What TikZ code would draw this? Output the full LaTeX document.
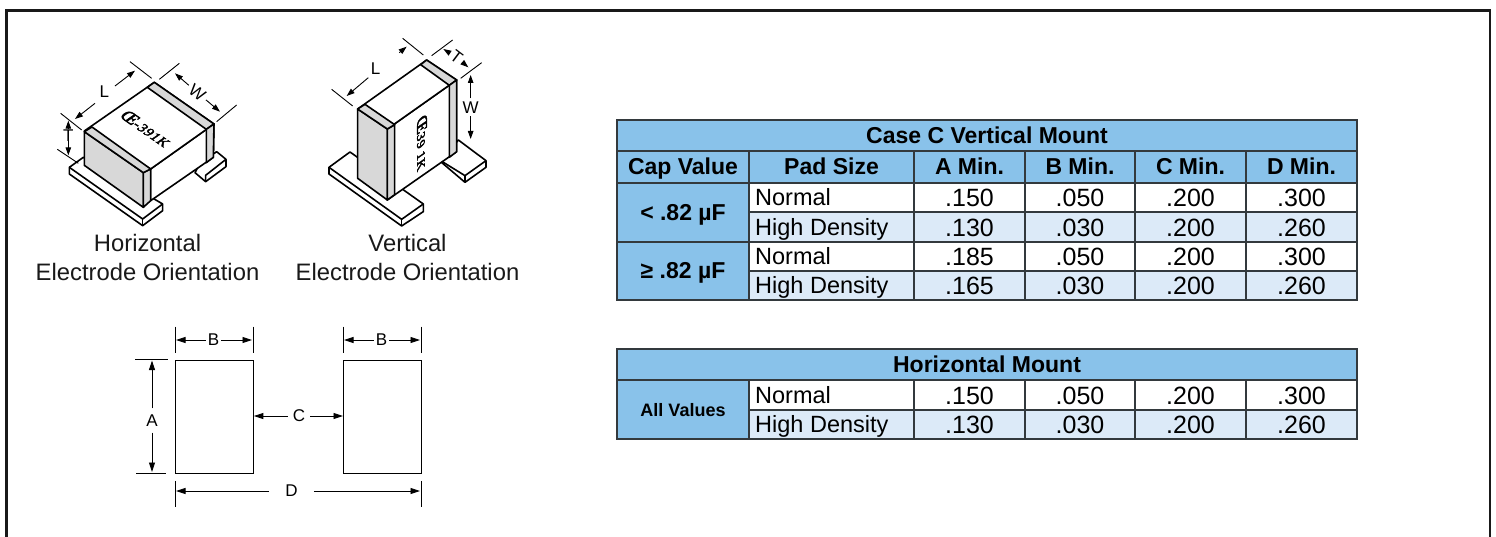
\documentclass[tikz,border=0pt]{standalone}
\usepackage{fontspec}
\setmainfont{Liberation Sans}
\newfontfamily\markfont[LetterSpace=5,FakeBold=3]{Liberation Serif}
\usetikzlibrary{arrows.meta}
\definecolor{hdr}{HTML}{89C2EA}
\definecolor{lite}{HTML}{DCEAF8}
\definecolor{grid}{HTML}{33393D}
\definecolor{elec}{HTML}{D8D8D8}
\tikzset{
  iso/.style={line width=1.6pt,line join=round,draw=black,fill=white},
  band/.style={line width=1.6pt,line join=round,draw=black,fill=elec},
  ext/.style={line width=0.9pt,draw=black},
  dimarrow/.style={line width=0.9pt,draw=black,-{Triangle[length=9.5pt,width=6pt]}},
  isoarrow/.style={line width=0.9pt,draw=black,-{Triangle[length=8pt,width=5.5pt]}},
  padrect/.style={line width=0.9pt,draw=black,fill=white},
  dimtext/.style={font=\fontsize{17}{17}\selectfont,inner sep=2pt,text=black},
  captext/.style={font=\fontsize{23.8}{29}\selectfont,align=center,inner sep=0pt,text=black!90},
  cellline/.style={line width=1.5pt,draw=grid},
  reg/.style={font=\fontsize{23.5}{28}\selectfont,inner sep=0pt},
  num/.style={font=\fontsize{25}{28}\selectfont,inner sep=0pt,yshift=-0.5pt},
  hd/.style={font=\bfseries\fontsize{23}{28}\selectfont,inner sep=0pt,yshift=0.7pt},
  hds/.style={font=\bfseries\fontsize{18}{22}\selectfont,inner sep=0pt,yshift=1.2pt},
}
% name, x1,y1,x2,y2, fill, text style, text
\newcommand{\cellc}[8]{%
  \filldraw[cellline,fill=#6] (#2,#3) rectangle (#4,#5);
  \node[#7,anchor=base] (#1) at ({(#2+#4)/2},{(#3+#5)/2+8.5}) {#8};}
\newcommand{\celll}[8]{%
  \filldraw[cellline,fill=#6] (#2,#3) rectangle (#4,#5);
  \node[#7,anchor=base west] (#1) at ({#2+6},{(#3+#5)/2+8.3}) {#8};}
% table body row: prefix, y1, y2, fill, pad name, a, b, c, d
\newcommand{\bodyrow}[9]{%
  \celll{#1p}{749}{#2}{914}{#3}{#4}{reg}{#5}
  \cellc{#1a}{914}{#2}{1025}{#3}{#4}{num}{#6}
  \cellc{#1b}{1025}{#2}{1135}{#3}{#4}{num}{#7}
  \cellc{#1c}{1135}{#2}{1246}{#3}{#4}{num}{#8}
  \cellc{#1d}{1246}{#2}{1357}{#3}{#4}{num}{#9}}
\begin{document}
\begin{tikzpicture}[x=1pt,y=-1pt]
\useasboundingbox (0,0) rectangle (1496,536);
\fill[white] (0,0) rectangle (1496,536);
% outer frame (runs off the bottom)
\draw[line width=2.6pt,black!90] (6.3,537) -- (6.3,10.7) -- (1490,10.7) -- (1490,537);

% ---------- horizontal capacitor ----------
\begin{scope}[shift={(40,50)},x=0.3333pt,y=-0.3333pt]
  % pads
  \filldraw[iso] (465,368) -- (497,395) -- (558,350) -- (558,328) -- (530,305) -- (480,340) -- cycle;
  \draw[iso,fill=none] (497,395) -- (497,376) -- (558,328);
  \filldraw[iso] (88,352) -- (130,322) -- (368,462) -- (368,482) -- (308,527) -- (88,372) -- cycle;
  \draw[iso,fill=none] (88,352) -- (308,507) -- (368,462);
  \draw[iso,fill=none] (308,507) -- (308,527);
  % body
  \filldraw[iso] (332,357) -- (522,222) -- (520,322) -- (332,452) -- cycle;
  \filldraw[iso] (133,243) -- (343,97) -- (522,222) -- (332,357) -- cycle;
  \filldraw[band] (133,245) -- (310,368) -- (310,472) -- (133,346) -- cycle;
  \filldraw[band] (310,368) -- (332,357) -- (332,452) -- (310,472) -- cycle;
  \filldraw[band] (133,245) -- (156,231) -- (332,357) -- (310,368) -- cycle;
  \filldraw[band] (343,97) -- (522,222) -- (499,238) -- (322,112) -- cycle;
  \filldraw[band] (499,238) -- (522,222) -- (520,322) -- (499,338) -- cycle;
  % marking
  \node[cm={0.82,-0.57,0.82,0.57,(0,0)},inner sep=0pt,text=black] (hmark) at (318,236) {\markfont\fontsize{14}{14}\selectfont{\fontsize{18}{18}\selectfont Œ}-391K};
  % dimensions
  \coordinate (hL1) at (285,62); \coordinate (hL2) at (105,207);
  \coordinate (hL1s) at (225,108); \coordinate (hL2s) at (165,160);
  \coordinate (hW1) at (405,70); \coordinate (hW2) at (540,185);
  \coordinate (hT1) at (85,212); \coordinate (hT2) at (85,316);
  \node[dimtext] (hLt) at (193,125) {L};
  \node[dimtext,rotate=-37,inner sep=3pt] (hWt) at (472,128) {W};
  \node[dimtext,inner sep=0pt] (hTt) at (85,256) {T};
  \draw[ext] (270,35) -- (335,85);
  \draw[ext] (418,40) -- (358,88);
  \draw[ext] (590,165) -- (530,215);
  \draw[ext] (62,190) -- (125,240);
  \draw[ext] (52,298) -- (115,340);
  \draw[isoarrow] (hL1s) -- (hL1);
  \draw[isoarrow] (hL2s) -- (hL2);
  \draw[isoarrow] (hWt) -- (hW1);
  \draw[isoarrow] (hWt) -- (hW2);
  \draw[isoarrow] (hTt) -- (hT1);
  \draw[isoarrow] (hTt) -- (hT2);
\end{scope}
\node[captext] (hcap) at (147.5,257.5) {Horizontal\\Electrode Orientation};

% ---------- vertical capacitor ----------
\begin{scope}[shift={(310,30)},x=0.3333pt,y=-0.3333pt]
  % pads
  \filldraw[iso] (392,395) -- (445,330) -- (528,392) -- (528,412) -- (465,457) -- cycle;
  \draw[iso,fill=none] (392,392) -- (465,437) -- (528,392);
  \draw[iso,fill=none] (465,437) -- (465,457);
  \filldraw[iso] (57,412) -- (120,366) -- (340,522) -- (340,545) -- (275,588) -- (57,432) -- cycle;
  \draw[iso,fill=none] (57,412) -- (275,568) -- (340,522);
  \draw[iso,fill=none] (275,568) -- (275,588);
  % body
  \filldraw[iso] (232,297) -- (440,150) -- (440,365) -- (232,510) -- cycle;
  \filldraw[iso] (143,237) -- (350,90) -- (440,150) -- (232,297) -- cycle;
  \filldraw[band] (143,237) -- (232,297) -- (232,510) -- (143,445) -- cycle;
  \filldraw[band] (232,297) -- (254,284) -- (254,494) -- (232,510) -- cycle;
  \filldraw[band] (143,237) -- (165,223) -- (254,284) -- (232,297) -- cycle;
  \filldraw[band] (350,90) -- (440,150) -- (418,166) -- (332,104) -- cycle;
  \filldraw[band] (418,166) -- (440,150) -- (440,365) -- (418,382) -- cycle;
  % marking
  \node[cm={0,-1,0.82,0.57,(0,0)},inner sep=0pt,text=black] (vmark) at (336,338) {\markfont\fontsize{14}{14}\selectfont{\fontsize{18}{18}\selectfont Œ}39 1K};
  % dimensions
  \coordinate (vLs) at (175,143); \coordinate (vLe) at (110,198);
  \coordinate (vTa) at (400,57); \coordinate (vTb) at (475,112);
  \coordinate (vLa) at (268,68); \coordinate (vLb) at (290,50);
  \coordinate (vW1) at (482,135); \coordinate (vW2) at (482,327);
  \node[dimtext] (vLt) at (197,117) {L};
  \node[dimtext,rotate=-37,inner sep=3pt] (vTt) at (440,82) {T};
  \node[dimtext,inner sep=3pt] (vWt) at (482,232) {W};
  \draw[ext] (278,25) -- (340,75);
  \draw[ext] (428,30) -- (365,77);
  \draw[ext] (515,98) -- (452,145);
  \draw[ext] (65,178) -- (128,228);
  \draw[isoarrow] (vLs) -- (vLe);
  \draw[isoarrow] (vLa) -- (vLb);
  \draw[isoarrow] (vTt) -- (vTa);
  \draw[isoarrow] (vTt) -- (vTb);
  \draw[isoarrow] (vWt) -- (vW1);
  \draw[isoarrow] (vWt) -- (vW2);
\end{scope}
\node[captext] (vcap) at (407.5,257.5) {Vertical\\Electrode Orientation};

% ---------- pad layout ----------
\node[padrect,anchor=north west,minimum width=78pt,minimum height=113pt,inner sep=0pt] (padL) at (175,359.5) {};
\node[padrect,anchor=north west,minimum width=78pt,minimum height=113pt,inner sep=0pt] (padR) at (343,359.5) {};
\node[dimtext] (tBl) at (213.5,340) {B};
\node[dimtext] (tBr) at (381.5,340) {B};
\node[dimtext,inner sep=6pt] (tA) at (152,420.5) {A};
\node[dimtext,inner sep=3pt] (tC) at (299,416) {C};
\node[dimtext] (tD) at (291.5,491) {D};
\draw[ext] (padL.north west) ++(0,-33) -- ++(0,26);
\draw[ext] (padL.north east) ++(0,-33) -- ++(0,26);
\draw[ext] (padR.north west) ++(0,-33) -- ++(0,26);
\draw[ext] (padR.north east) ++(0,-33) -- ++(0,26);
\draw[ext] (135,359.5) -- (168,359.5);
\draw[ext] (136,473) -- (166,473);
\draw[ext] (padL.south west) ++(0,7.5) -- ++(0,26);
\draw[ext] (padR.south east) ++(0,7.5) -- ++(0,26);
\draw[dimarrow] (tBl) -- (176,340);
\draw[dimarrow] (tBl) -- (252,340);
\draw[dimarrow] (tBr) -- (344,340);
\draw[dimarrow] (tBr) -- (420,340);
\draw[dimarrow] (tA) -- (152,360.5);
\draw[dimarrow] (tA) -- (152,472);
\draw[dimarrow,shorten <=2pt] (tC) -- (padL.east |- tC);
\draw[dimarrow,shorten <=2pt] (tC) -- (padR.west |- tC);
\draw[dimarrow,shorten <=14pt] (tD) -- (176,491);
\draw[dimarrow,shorten <=14pt] (tD) -- (420,491);

% ---------- table: vertical mount ----------
\cellc{tvT}{617}{120}{1357}{151}{hdr}{hd}{Case C Vertical Mount}
\cellc{tvh1}{617}{151}{749}{183}{hdr}{hd}{Cap Value}
\cellc{tvh2}{749}{151}{914}{183}{hdr}{hd}{Pad Size}
\cellc{tvh3}{914}{151}{1025}{183}{hdr}{hd}{A Min.}
\cellc{tvh4}{1025}{151}{1135}{183}{hdr}{hd}{B Min.}
\cellc{tvh5}{1135}{151}{1246}{183}{hdr}{hd}{C Min.}
\cellc{tvh6}{1246}{151}{1357}{183}{hdr}{hd}{D Min.}
\cellc{tvr1}{617}{183}{749}{242}{hdr}{hd}{< .82 µF}
\cellc{tvr2}{617}{242}{749}{300}{hdr}{hd}{≥ .82 µF}
\bodyrow{a}{183}{212}{white}{Normal}{.150}{.050}{.200}{.300}
\bodyrow{b}{212}{242}{lite}{High Density}{.130}{.030}{.200}{.260}
\bodyrow{e}{242}{271}{white}{Normal}{.185}{.050}{.200}{.300}
\bodyrow{f}{271}{300}{lite}{High Density}{.165}{.030}{.200}{.260}

% ---------- table: horizontal mount ----------
\cellc{thT}{617}{349}{1357}{380}{hdr}{hd}{Horizontal Mount}
\cellc{thr}{617}{380}{749}{439}{hdr}{hds}{All Values}
\bodyrow{m}{380}{410}{white}{Normal}{.150}{.050}{.200}{.300}
\bodyrow{n}{410}{439}{lite}{High Density}{.130}{.030}{.200}{.260}
\end{tikzpicture}
\end{document}
